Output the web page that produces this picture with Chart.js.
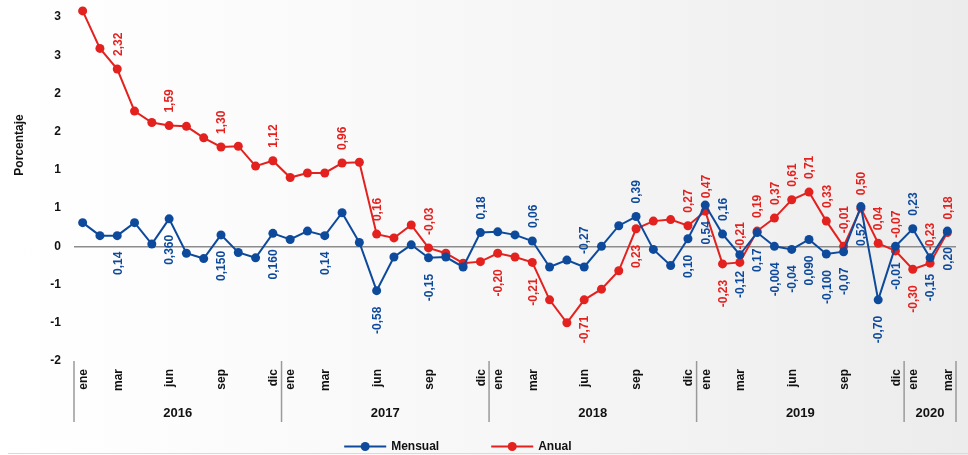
<!DOCTYPE html>
<html>
<head>
<meta charset="utf-8">
<script src="https://cdn.jsdelivr.net/npm/chart.js@4.4.1/dist/chart.umd.min.js"></script>
<style>
    body { margin: 0; }
    #wrap {
        width: 968px;
        height: 455px;
        background: linear-gradient(90deg, #ffffff 0%, #f8f8f8 45%, #ececec 100%);
    }
</style>
</head>
<body>
<div id="wrap"><canvas id="inflChart" width="968" height="455"></canvas></div>
<script>
const years = ['2016', '2017', '2018', '2019', '2020'];
const monthNames = ['ene', 'feb', 'mar', 'abr', 'may', 'jun', 'jul', 'ago', 'sep', 'oct', 'nov', 'dic'];
const shownMonths = ['ene', 'mar', 'jun', 'sep', 'dic'];
const monthsIn2020 = 3;

const mensual = [
    0.31, 0.14, 0.14, 0.31, 0.03, 0.36, -0.09, -0.16, 0.15, -0.08, -0.15, 0.17,
    0.09, 0.20, 0.14, 0.44, 0.05, -0.58, -0.14, 0.02, -0.15, -0.14, -0.27, 0.18,
    0.19, 0.15, 0.07, -0.27, -0.18, -0.27, 0.00, 0.27, 0.39, -0.04, -0.25, 0.10,
    0.54, 0.16, -0.11, 0.18, 0.00, -0.04, 0.09, -0.10, -0.07, 0.52, -0.70, 0.00,
    0.23, -0.15, 0.20
];
const anual = [
    3.08, 2.59, 2.32, 1.77, 1.62, 1.58, 1.57, 1.42, 1.30, 1.31, 1.05, 1.12,
    0.90, 0.96, 0.96, 1.09, 1.10, 0.16, 0.11, 0.28, -0.02, -0.09, -0.22, -0.20,
    -0.09, -0.14, -0.21, -0.70, -1.00, -0.70, -0.56, -0.32, 0.23, 0.33, 0.35, 0.27,
    0.46, -0.23, -0.21, 0.20, 0.37, 0.61, 0.71, 0.33, 0.00, 0.50, 0.04, -0.06,
    -0.30, -0.22, 0.18
];

// value labels as printed on the original chart
const mensualLabels = [
    null, null, '0,14', null, null, '0,360', null, null, '0,150', null, null, '0,160',
    null, null, '0,14', null, null, '-0,58', null, null, '-0,15', null, null, '0,18',
    null, null, '0,06', null, null, '-0,27', null, null, '0,39', null, null, '0,10',
    '0,54', '0,16', '-0,12', '0,17', '-0,004', '-0,04', '0,090', '-0,100', '-0,07', '0,52', '-0,70', '-0,01',
    '0,23', '-0,15', '0,20'
];
const anualLabels = [
    null, null, '2,32', null, null, '1,59', null, null, '1,30', null, null, '1,12',
    null, null, null, '0,96', null, '0,16', null, null, '-0,03', null, null, null,
    '-0,20', null, '-0,21', null, null, '-0,71', null, null, '0,23', null, null, '0,27',
    '0,47', '-0,23', '-0,21', '0,19', '0,37', '0,61', '0,71', '0,33', '-0,01', '0,50', '0,04', '-0,07',
    '-0,30', '-0,23', '0,18'
];

// which labels sit above (mensual) / below (anual) their point
const mensualAbove = [23, 26, 29, 32, 37, 48];
const anualBelow = [24, 26, 29, 32, 37, 48];

const BLUE = '#0e4a9c';
const RED = '#e3211f';
const FONT = "'Liberation Sans', Arial, sans-serif";

const categories = [];
years.forEach((y, k) => {
    const n = k === years.length - 1 ? monthsIn2020 : 12;
    for (let m = 0; m < n; m++) categories.push(monthNames[m]);
});

const valueLabels = {
    id: 'valueLabels',
    afterDatasetsDraw(chart) {
        const ctx = chart.ctx;
        const sets = [
            { labels: mensualLabels, color: BLUE, above: i => mensualAbove.includes(i) },
            { labels: anualLabels, color: RED, above: i => !anualBelow.includes(i) }
        ];
        ctx.save();
        ctx.font = 'bold 12px ' + FONT;
        ctx.textBaseline = 'middle';
        sets.forEach((s, d) => {
            const meta = chart.getDatasetMeta(d);
            s.labels.forEach((txt, i) => {
                if (!txt) return;
                const pt = meta.data[i];
                ctx.save();
                ctx.translate(pt.x + 1, pt.y);
                ctx.rotate(-Math.PI / 2);
                ctx.fillStyle = s.color;
                if (s.above(i)) {
                    ctx.textAlign = 'left';
                    ctx.fillText(txt, 13, 0);
                } else {
                    ctx.textAlign = 'right';
                    ctx.fillText(txt, -16, 0);
                }
                ctx.restore();
            });
        });
        ctx.restore();
    }
};

const groupedAxis = {
    id: 'groupedAxis',
    afterDraw(chart) {
        const ctx = chart.ctx;
        const x = chart.scales.x;
        const area = chart.chartArea;
        const step = x.getPixelForValue(1) - x.getPixelForValue(0);
        ctx.save();
        // month labels
        ctx.font = 'bold 12px ' + FONT;
        ctx.fillStyle = '#111';
        ctx.textBaseline = 'middle';
        ctx.textAlign = 'right';
        categories.forEach((m, i) => {
            if (!shownMonths.includes(m)) return;
            ctx.save();
            ctx.translate(x.getPixelForValue(i) + 1, area.bottom + 8);
            ctx.rotate(-Math.PI / 2);
            ctx.fillText(m, 0, 0);
            ctx.restore();
        });
        // year separators and labels
        ctx.strokeStyle = '#9a9a9a';
        ctx.lineWidth = 1.5;
        let start = 0;
        const edges = [];
        years.forEach((y, k) => {
            const n = k === years.length - 1 ? monthsIn2020 : 12;
            const x0 = x.getPixelForValue(start) - step / 2;
            const x1 = x.getPixelForValue(start + n - 1) + step / 2;
            edges.push(x0);
            if (k === years.length - 1) edges.push(x1);
            ctx.font = 'bold 13px ' + FONT;
            ctx.textAlign = 'center';
            ctx.fillText(y, (x0 + x1) / 2, area.bottom + 52);
            start += n;
        });
        edges.forEach(e => {
            ctx.beginPath();
            ctx.moveTo(e, area.bottom);
            ctx.lineTo(e, area.bottom + 61);
            ctx.stroke();
        });
        // axis title
        ctx.save();
        ctx.font = 'bold 12px ' + FONT;
        ctx.textAlign = 'center';
        ctx.translate(20, 145);
        ctx.rotate(-Math.PI / 2);
        ctx.fillText('Porcentaje', 0, 0);
        ctx.restore();
        // legend
        const items = [['Mensual', BLUE], ['Anual', RED]];
        ctx.font = 'bold 12px ' + FONT;
        ctx.textAlign = 'left';
        const widths = items.map(it => 47 + ctx.measureText(it[0]).width);
        const total = widths[0] + widths[1] + 52;
        let lx = chart.width * 0.473 - total / 2;
        const ly = 446.5;
        items.forEach((it, k) => {
            ctx.strokeStyle = it[1];
            ctx.fillStyle = it[1];
            ctx.lineWidth = 2;
            ctx.beginPath();
            ctx.moveTo(lx, ly);
            ctx.lineTo(lx + 42, ly);
            ctx.stroke();
            ctx.beginPath();
            ctx.arc(lx + 21, ly, 4.5, 0, Math.PI * 2);
            ctx.fill();
            ctx.fillStyle = '#111';
            ctx.fillText(it[0], lx + 47, ly);
            lx += widths[k] + 52;
        });
        // bottom rule
        ctx.strokeStyle = '#dadada';
        ctx.lineWidth = 1;
        ctx.beginPath();
        ctx.moveTo(8, 453.5);
        ctx.lineTo(chart.width, 453.5);
        ctx.stroke();
        ctx.restore();
    }
};

const inflChart = document.getElementById('inflChart');

new Chart(inflChart, {
    type: 'line',
    data: {
        labels: categories,
        datasets: [{
            label: 'Mensual',
            data: mensual,
            borderColor: BLUE,
            backgroundColor: BLUE,
            borderWidth: 2,
            pointRadius: 4.5,
            pointBorderWidth: 0,
            tension: 0,
            clip: false
        }, {
            label: 'Anual',
            data: anual,
            borderColor: RED,
            backgroundColor: RED,
            borderWidth: 2,
            pointRadius: 4.5,
            pointBorderWidth: 0,
            tension: 0,
            clip: false
        }]
    },
    options: {
        responsive: false,
        animation: false,
        layout: {
            padding: { top: 9.4, right: 12, left: 0, bottom: 0 }
        },
        scales: {
            x: {
                offset: true,
                ticks: { display: false },
                grid: { display: false },
                border: { display: false },
                afterFit(scale) { scale.height = 94; }
            },
            y: {
                min: -1.5,
                max: 3.1,
                ticks: {
                    stepSize: 0.5,
                    includeBounds: false,
                    padding: 13,
                    color: '#111',
                    font: { family: FONT, size: 12, weight: 'bold' },
                    callback: v => String(Math.sign(v) * Math.round(Math.abs(v)))
                },
                grid: {
                    drawTicks: false,
                    lineWidth: 1.5,
                    color: c => c.tick && c.tick.value === 0 ? '#8c8c8c' : 'transparent'
                },
                border: { display: false },
                afterFit(scale) {
                    scale.width = 74;
                    scale.paddingTop = 0;
                    scale.paddingBottom = 0;
                }
            }
        },
        plugins: {
            legend: { display: false },
            tooltip: { enabled: false }
        }
    },
    plugins: [valueLabels, groupedAxis]
});
</script>
</body>
</html>
